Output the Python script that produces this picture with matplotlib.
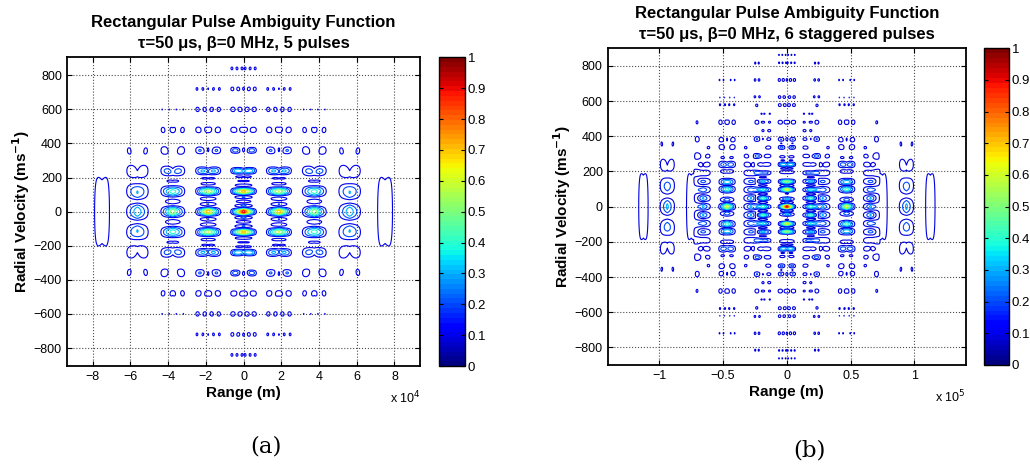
import numpy as np
import matplotlib.pyplot as plt
from matplotlib.cm import ScalarMappable
from matplotlib.colors import Normalize
from matplotlib.ticker import FuncFormatter

# radar / waveform parameters
c = 3e8
wavelength = 0.03           # m (10 GHz)
pulse_width = 50e-6         # s
pri_a = [125e-6, 125e-6, 125e-6, 125e-6]                          # 5 uniform pulses
pri_b = [125e-6, 187.5e-6, 125e-6, 187.5e-6, 125e-6]              # 6 staggered pulses

levels_a = [0.095, 0.2, 0.3, 0.4, 0.5, 0.6, 0.7, 0.8, 0.9]
levels_b = [0.085, 0.2, 0.3, 0.4, 0.5, 0.6, 0.7, 0.8, 0.9]
cbar_ticks = [0, 0.1, 0.2, 0.3, 0.4, 0.5, 0.6, 0.7, 0.8, 0.9, 1.0]
vel_ticks = [-800, -600, -400, -200, 0, 200, 400, 600, 800]
range_ticks_a = [-8e4, -6e4, -4e4, -2e4, 0, 2e4, 4e4, 6e4, 8e4]
range_ticks_b = [-1e5, -0.5e5, 0, 0.5e5, 1e5]

titles = ['Rectangular Pulse Ambiguity Function\n\u03c4=50 \u03bcs, \u03b2=0 MHz, 5 pulses',
          'Rectangular Pulse Ambiguity Function\n\u03c4=50 \u03bcs, \u03b2=0 MHz, 6 staggered pulses']

plt.rcParams['font.family'] = ['Liberation Sans', 'DejaVu Sans']


def ambiguity(pri, rng, vel):
    """|chi| of a train of rectangular pulses, normalised to 1 at the origin"""
    t = np.concatenate([[0.0], np.cumsum(pri)])
    delay = 2 * rng / c
    dop = 2 * vel / wavelength
    D, F = np.meshgrid(delay, dop)
    chi = np.zeros(D.shape, complex)
    for tn in t:
        for tm in t:
            d = tn - tm
            cols = np.abs(delay - d) < pulse_width
            tau = D[:, cols] - d
            f = F[:, cols]
            L = pulse_width - np.abs(tau)
            chi[:, cols] += (np.exp(2j * np.pi * f * tn) * np.exp(1j * np.pi * f * tau)
                             * L * np.sinc(f * L))
    return np.abs(chi) / (len(t) * pulse_width)


def style_axes(ax):
    ax.grid(True, linestyle=':', color='0.3', linewidth=0.8)
    ax.tick_params(direction='in', top=True, right=True, labelsize=9, length=3.5)
    for s in ax.spines.values():
        s.set_linewidth(1.3)
    ax.set_yticks(vel_ticks)
    ax.yaxis.set_major_formatter(FuncFormatter(lambda v, p: f'{v:g}'.replace('-', '\u2212')))


def add_cbar(fig, rect):
    cax = fig.add_axes(rect)
    sm = ScalarMappable(norm=Normalize(0, 1), cmap=plt.get_cmap('jet', 64))
    cb = fig.colorbar(sm, cax=cax, ticks=cbar_ticks)
    cb.ax.yaxis.set_major_formatter(FuncFormatter(lambda v, p: f'{v:g}'))
    cb.ax.tick_params(direction='in', left=True, right=True, labelsize=9.5, length=3, pad=2)
    cb.outline.set_linewidth(1.0)


fig = plt.figure(figsize=(10.3, 4.71), dpi=100)

# panel (a)
xlim_a, ylim_a = 9.37e4, 905
rng_a = np.linspace(-xlim_a, xlim_a, 1800)
vel_a = np.linspace(-ylim_a, ylim_a, 900)
amb_a = ambiguity(pri_a, rng_a, vel_a)

ax1 = fig.add_axes([0.0648, 0.2229, 0.3433, 0.6554])
ax1.contour(rng_a, vel_a, amb_a, levels=levels_a, cmap='jet', vmin=0, vmax=1, linewidths=0.8)
ax1.set_xlim(-xlim_a, xlim_a)
ax1.set_ylim(-ylim_a, ylim_a)
style_axes(ax1)
ax1.set_xticks(range_ticks_a)
ax1.xaxis.set_major_formatter(FuncFormatter(lambda x, p: f'{x / 1e4:g}'.replace('-', '\u2212')))
ax1.set_title(titles[0], fontsize=12, fontweight='bold', pad=7, linespacing=1.5)
ax1.set_xlabel('Range (m)', fontsize=11, fontweight='bold', labelpad=2)
ax1.set_ylabel('Radial Velocity (ms$^{\\mathbf{-1}}$)', fontsize=11, fontweight='bold', labelpad=1)
ax1.text(1.0, -0.104, 'x 10$^4$', transform=ax1.transAxes, ha='right', va='center', fontsize=9)
add_cbar(fig, [0.4262, 0.2229, 0.0252, 0.6554])

# panel (b)
xlim_b, ylim_b = 1.405e5, 900
rng_b = np.linspace(-xlim_b, xlim_b, 2600)
vel_b = np.linspace(-ylim_b, ylim_b, 1100)
amb_b = ambiguity(pri_b, rng_b, vel_b)

ax2 = fig.add_axes([0.5900, 0.2251, 0.3479, 0.6724])
ax2.contour(rng_b, vel_b, amb_b, levels=levels_b, cmap='jet', vmin=0, vmax=1, linewidths=0.8)
ax2.set_xlim(-xlim_b, xlim_b)
ax2.set_ylim(-ylim_b, ylim_b)
style_axes(ax2)
ax2.set_xticks(range_ticks_b)
ax2.xaxis.set_major_formatter(FuncFormatter(lambda x, p: f'{x / 1e5:g}'.replace('-', '\u2212')))
ax2.set_title(titles[1], fontsize=12, fontweight='bold', pad=7, linespacing=1.5)
ax2.set_xlabel('Range (m)', fontsize=11, fontweight='bold', labelpad=2)
ax2.set_ylabel('Radial Velocity (ms$^{\\mathbf{-1}}$)', fontsize=11, fontweight='bold', labelpad=1)
ax2.text(1.0, -0.1, 'x 10$^5$', transform=ax2.transAxes, ha='right', va='center', fontsize=9)
add_cbar(fig, [0.9553, 0.2251, 0.0243, 0.6724])

fig.text(266 / 1030, 1 - 447 / 471, '(a)', ha='center', va='center', fontsize=16.5,
         family=['DejaVu Serif'])
fig.text(809 / 1030, 1 - 450 / 471, '(b)', ha='center', va='center', fontsize=16.5,
         family=['DejaVu Serif'])

fig.savefig('out.png', dpi=100)
